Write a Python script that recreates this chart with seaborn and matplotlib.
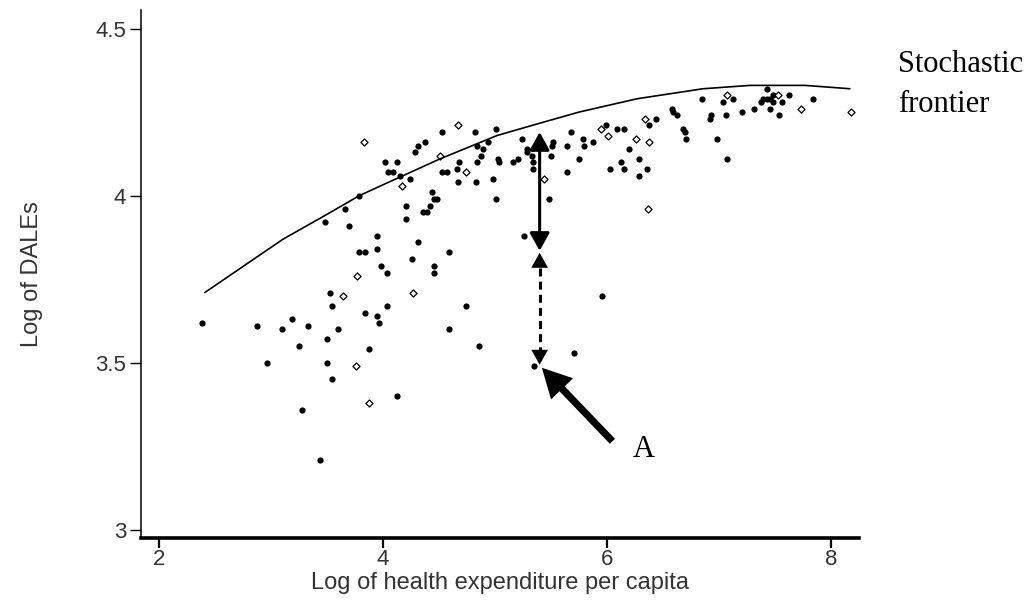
import numpy as np
import pandas as pd
import matplotlib
matplotlib.use("Agg")
import matplotlib.pyplot as plt
import seaborn as sns

sns.set_theme(style="white")
plt.rcParams["font.family"] = ["Liberation Sans", "DejaVu Sans"]

# -----------------------------------
# Data
# -----------------------------------
# countries drawn with filled markers
filled_x = [2.39, 2.88, 2.97, 3.10, 3.19, 3.25, 3.33, 3.28, 3.44, 3.50,
            3.50, 3.55, 3.53, 3.55, 3.60, 3.88, 3.84, 3.95, 3.97, 4.13,
            4.04, 4.59, 4.86, 4.74, 4.59, 3.95, 3.98, 4.04, 3.79, 3.84,
            3.95, 4.21, 4.21, 4.31, 4.26, 4.46, 4.46, 4.39, 4.42, 4.36,
            4.44, 4.46, 4.48, 4.02, 4.05, 3.79, 3.66, 3.48, 3.70, 4.13,
            4.09, 4.15, 4.24, 4.29, 4.31, 4.38, 4.53, 4.82, 5.01, 4.68,
            4.84, 4.89, 4.94, 4.88, 4.84, 5.03, 5.04, 5.16, 5.21, 5.24,
            5.29, 5.29, 5.33, 5.34, 5.34, 5.51, 5.50, 5.52, 5.64, 5.68,
            5.64, 4.53, 4.57, 4.66, 4.67, 4.83, 4.98, 5.01, 5.48, 5.26,
            5.35, 5.71, 5.96, 6.85, 7.04, 7.13, 7.06, 7.21, 7.31, 7.38,
            7.43, 6.92, 6.93, 6.58, 6.59, 6.63, 6.44, 6.38, 6.68, 6.70,
            6.71, 6.15, 6.09, 5.99, 5.79, 5.80, 5.88, 6.20, 6.98, 5.75,
            6.29, 6.13, 6.03, 6.15, 6.36, 6.29, 7.07, 7.43, 7.39, 7.46,
            7.48, 7.56, 7.46, 7.54, 7.63, 7.48, 7.84]
filled_y = [3.62, 3.61, 3.50, 3.60, 3.63, 3.55, 3.61, 3.36, 3.21, 3.57,
            3.50, 3.45, 3.71, 3.67, 3.60, 3.54, 3.65, 3.64, 3.62, 3.40,
            3.67, 3.60, 3.55, 3.67, 3.83, 3.88, 3.79, 3.77, 3.83, 3.83,
            3.84, 3.97, 3.93, 3.86, 3.81, 3.79, 3.77, 3.95, 3.97, 3.95,
            4.01, 3.99, 3.99, 4.10, 4.07, 4.00, 3.96, 3.92, 3.91, 4.10,
            4.07, 4.06, 4.05, 4.13, 4.15, 4.16, 4.19, 4.19, 4.20, 4.10,
            4.15, 4.14, 4.16, 4.12, 4.10, 4.11, 4.10, 4.10, 4.11, 4.17,
            4.14, 4.13, 4.12, 4.10, 4.08, 4.15, 4.12, 4.16, 4.15, 4.19,
            4.07, 4.07, 4.07, 4.08, 4.04, 4.04, 4.05, 3.99, 3.99, 3.88,
            3.49, 3.53, 3.70, 4.29, 4.28, 4.29, 4.24, 4.25, 4.26, 4.28,
            4.29, 4.23, 4.24, 4.26, 4.25, 4.24, 4.23, 4.21, 4.20, 4.19,
            4.17, 4.20, 4.20, 4.21, 4.17, 4.15, 4.16, 4.14, 4.17, 4.11,
            4.11, 4.10, 4.08, 4.08, 4.08, 4.06, 4.11, 4.32, 4.29, 4.29,
            4.30, 4.28, 4.26, 4.24, 4.30, 4.28, 4.29]

# countries drawn with hollow markers
hollow_x = [3.64, 3.77, 3.76, 3.88, 4.27, 3.83, 4.17, 4.67, 4.51, 4.74,
            5.44, 7.07, 6.34, 5.95, 6.01, 6.26, 6.38, 6.37, 7.53, 7.73, 8.18]
hollow_y = [3.70, 3.76, 3.49, 3.38, 3.71, 4.16, 4.03, 4.21, 4.12, 4.07,
            4.05, 4.30, 4.23, 4.20, 4.18, 4.17, 4.16, 3.96, 4.30, 4.26, 4.25]

# stochastic frontier
frontier_x = [2.41, 3.11, 3.48, 3.79, 4.05, 4.51, 5.02, 5.33, 5.75, 6.27,
              6.86, 7.28, 7.77, 8.17]
frontier_y = [3.71, 3.87, 3.94, 4.00, 4.04, 4.11, 4.18, 4.21, 4.25, 4.29,
              4.32, 4.33, 4.33, 4.32]

# inefficiency arrows for country A
arrow_x = 5.40
frontier_at_a = 4.19
split_at_a = 3.835
country_a = (5.35, 3.49)

xticks = [2, 4, 6, 8]
yticks = [3, 3.5, 4, 4.5]
ytick_labels = ["3", "3.5", "4", "4.5"]

# -----------------------------------
# Plot
# -----------------------------------
filled = pd.DataFrame({"x": filled_x, "y": filled_y})
hollow = pd.DataFrame({"x": hollow_x, "y": hollow_y})
frontier = pd.DataFrame({"x": frontier_x, "y": frontier_y})

fig = plt.figure(figsize=(10.36, 6), dpi=100)
ax = fig.add_axes([0.136, 0.103, 0.693, 0.880])

sns.lineplot(data=frontier, x="x", y="y", ax=ax, color="black", lw=1.2,
             sort=False, estimator=None)
sns.scatterplot(data=filled, x="x", y="y", ax=ax, color="black", marker="o",
                s=20, linewidth=0)
sns.scatterplot(data=hollow, x="x", y="y", ax=ax, marker="D", s=13,
                facecolor="white", edgecolor="black", linewidth=0.9)

head_style = "<|-|>,head_length=0.9,head_width=0.5"
head_len = 0.045  # arrow head length in data units on the y axis

# solid arrow: frontier down to the split point
ax.annotate("", xy=(arrow_x, frontier_at_a), xytext=(arrow_x, split_at_a),
            arrowprops=dict(arrowstyle=head_style, mutation_scale=12,
                            color="black", lw=2.2, shrinkA=0, shrinkB=0))
# dashed arrow: split point down to country A (solid heads, dashed shaft)
ax.annotate("", xy=(arrow_x, split_at_a - 0.006), xytext=(arrow_x, country_a[1] + 0.004),
            arrowprops=dict(arrowstyle=head_style, mutation_scale=12,
                            color="black", lw=0, shrinkA=0, shrinkB=0))
ax.plot([arrow_x, arrow_x], [split_at_a - 0.006 - head_len, country_a[1] + 0.004 + head_len],
        color="black", lw=2.2, dashes=(2.6, 1.7), solid_capstyle="butt")
# big pointer to country A
ax.annotate("", xy=(country_a[0] + 0.07, country_a[1] - 0.005), xytext=(6.05, 3.265),
            arrowprops=dict(arrowstyle="simple,head_length=1.05,head_width=1.1,tail_width=0.26",
                            mutation_scale=20, color="black", lw=0,
                            shrinkA=0, shrinkB=0))

ax.set_xlim(1.84, 8.25)
ax.set_ylim(2.975, 4.555)
ax.set_xticks(xticks)
ax.set_yticks(yticks)
ax.set_yticklabels(ytick_labels)
ax.set_xlabel("Log of health expenditure per capita", fontsize=17,
              color="#333333", labelpad=1)
ax.set_ylabel("Log of DALEs", fontsize=17, color="#333333")
ax.yaxis.set_label_coords(-0.136, 0.5)

for side in ["top", "right"]:
    ax.spines[side].set_visible(False)
ax.spines["left"].set_color("black")
ax.spines["left"].set_linewidth(1.1)
ax.spines["bottom"].set_color("black")
ax.spines["bottom"].set_linewidth(2.6)
ax.tick_params(axis="y", direction="out", length=8, width=1.0, color="black",
               labelsize=16, labelcolor="#333333", pad=2.5, left=True)
ax.tick_params(axis="x", direction="out", length=7, width=1.6, color="black",
               labelsize=16, labelcolor="#333333", pad=1, bottom=True)

# annotations in serif
fig.text(0.867, 0.880, "Stochastic", fontsize=22, family="Liberation Serif",
         color="black", va="baseline")
fig.text(0.867, 0.813, "frontier", fontsize=22, family="Liberation Serif",
         color="black", va="baseline")
fig.text(0.611, 0.238, "A", fontsize=22, family="Liberation Serif",
         color="black", va="baseline")

fig.savefig("out.png", dpi=100, facecolor="white")
